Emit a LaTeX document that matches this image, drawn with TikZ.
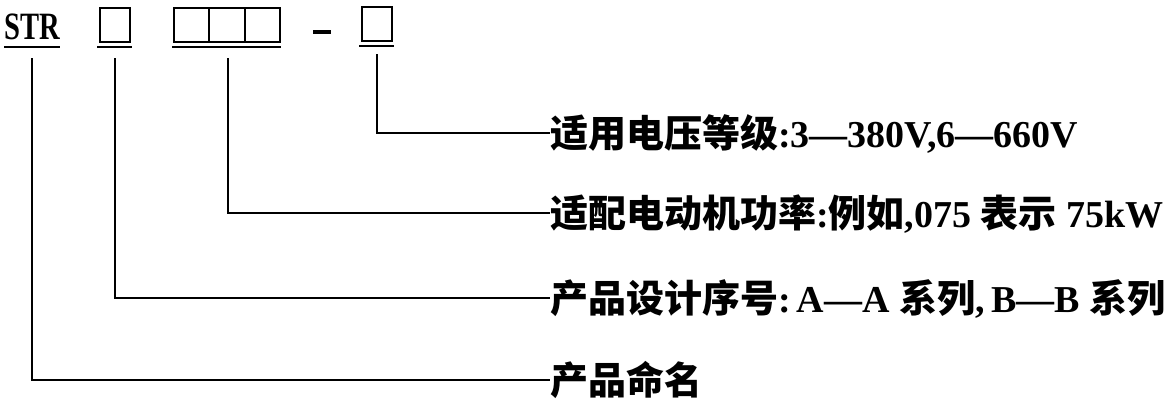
\documentclass[tikz,border=0pt]{standalone}
\usepackage{fontspec}
\setmainfont{Liberation Serif}
\newfontfamily\cjk{Noto Sans CJK SC}
\begin{document}
\begin{tikzpicture}[x=0.75pt,y=-0.75pt,
  ln/.style={line width=1.5pt},
  box/.style={draw,line width=1.4pt,inner sep=0pt,outer sep=0pt,minimum height=25pt},
  lbl/.style={anchor=west,inner sep=0pt,outer sep=0pt,text height=25.3pt,text depth=3.4pt,
    font=\fontsize{28.5}{31}\selectfont\bfseries}]
\useasboundingbox (0,0) rectangle (1171,405);
% code row
\node[anchor=base,inner sep=0pt,font=\fontsize{29}{32}\selectfont\bfseries] (str) at (32,39) {\scalebox{0.74}[1]{STR}};
\node[box,minimum width=22.5pt] (b1) at (115,25) {};
\node[box,minimum width=26.5pt] (b2) at (191.7,25) {};
\node[box,minimum width=26.5pt] (b3) at (227,25) {};
\node[box,minimum width=26.5pt] (b4) at (262.3,25) {};
\node[box,minimum width=22.5pt] (b5) at (377,24) {};
\node[inner sep=0pt,minimum width=14pt,minimum height=3pt,fill=black] (dash) at (322,32) {};
% underlines
\draw[ln] (4,47) -- (60,47);
\draw[ln] (97,46.5) -- (132,46.5);
\draw[ln] (172,46.5) -- (281,46.5);
\draw[ln] (359,45.5) -- (394,45.5);
% labels
\node[lbl] (t1) at (550,133) {{\cjk 适用电压等级}:3—380V,6—660V};
\node[lbl] (t2) at (550,213) {{\cjk 适配电动机功率}:{\cjk 例如},075 {\cjk 表示} 75kW};
\node[lbl] (t3) at (550,298) {{\cjk 产品设计序号}:\,A—A {\cjk 系列},\,B—B {\cjk 系列}};
\node[lbl] (t4) at (550,380) {{\cjk 产品命名}};
% connectors
\coordinate (c5) at (377,54);
\coordinate (c2) at (228,58);
\coordinate (c1) at (115,58);
\coordinate (c0) at (32,58);
\draw[ln] (c5) |- (t1.west);
\draw[ln] (c2) |- (t2.west);
\draw[ln] (c1) |- (t3.west);
\draw[ln] (c0) |- (t4.west);
\end{tikzpicture}
\end{document}
